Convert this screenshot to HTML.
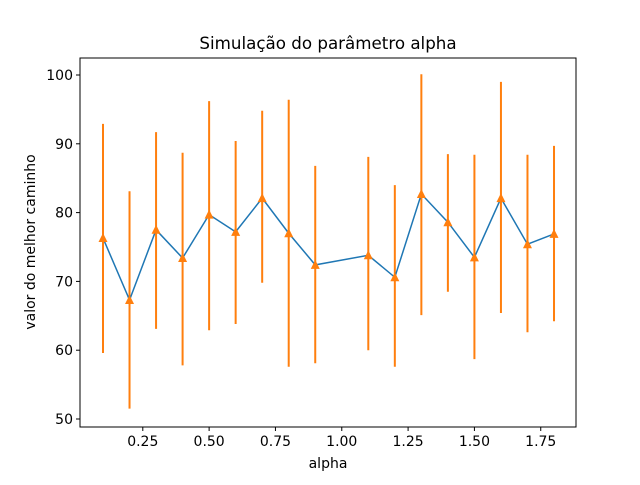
<!DOCTYPE html>
<html><head><meta charset="utf-8"><style>
body{margin:0;background:#fff;font-family:"Liberation Sans","DejaVu Sans",sans-serif}
svg text{font-family:"DejaVu Sans","Liberation Sans",sans-serif}
</style></head><body>
<svg id="c" width="640" height="480" xmlns="http://www.w3.org/2000/svg">
<rect width="640" height="480" fill="#fff"/>
</svg>
<script>
const alphas=[0.1,0.2,0.3,0.4,0.5,0.6,0.7,0.8,0.9,1.1,1.2,1.3,1.4,1.5,1.6,1.7,1.8];
const means=[76.3,67.3,77.5,73.4,79.7,77.2,82.1,77.0,72.4,73.8,70.6,82.7,78.6,73.5,82.1,75.4,76.9];
const upper=[92.9,83.1,91.7,88.7,96.2,90.4,94.8,96.4,86.8,88.1,84.0,100.1,88.5,88.4,99.0,88.4,89.7];
const lower=[59.6,51.5,63.1,57.8,62.9,63.8,69.8,57.6,58.1,60.0,57.6,65.1,68.5,58.7,65.4,62.6,64.2];
const xTicks=[0.25,0.5,0.75,1.0,1.25,1.5,1.75];
const xTickLabels=["0.25","0.50","0.75","1.00","1.25","1.50","1.75"];
const yTicks=[50,60,70,80,90,100];
const L=80,R=576,T=58,B=427;
const X=v=>103+(v-0.1)*265.3;
const Y=v=>75+(100-v)*6.88;
const svg=document.getElementById('c');
const NS='http://www.w3.org/2000/svg';
function mk(tag,attrs,parent){const e=document.createElementNS(NS,tag);for(const k in attrs)e.setAttribute(k,attrs[k]);(parent||svg).appendChild(e);return e;}
const eg=mk('g',{});


alphas.forEach((a,i)=>{const l=mk('line',{x1:X(a),x2:X(a),y1:Y(upper[i]),y2:Y(lower[i]),stroke:'#ff7f0e','stroke-width':2},eg);

});
const pl=mk('polyline',{points:alphas.map((a,i)=>X(a)+','+Y(means[i])).join(' '),fill:'none',stroke:'#1f77b4','stroke-width':1.5});


alphas.forEach((a,i)=>{const x=X(a),y=Y(means[i]);const p=mk('polygon',{points:`${x},${y-5} ${x-4.5},${y+4} ${x+4.5},${y+4}`,fill:'#ff7f0e'});

});
const fr=mk('rect',{x:L,y:T,width:R-L,height:B-T,fill:'none',stroke:'#000','stroke-width':1});


xTicks.forEach((v,i)=>{mk('line',{x1:X(v),x2:X(v),y1:B,y2:B+4,stroke:'#000'});
const t=mk('text',{x:X(v),y:B+19,'text-anchor':'middle','font-size':14});t.textContent=xTickLabels[i];

});
yTicks.forEach(v=>{mk('line',{x1:L-4,x2:L,y1:Y(v),y2:Y(v),stroke:'#000'});
const t=mk('text',{x:L-7,y:Y(v)+5,'text-anchor':'end','font-size':14});t.textContent=v;

});
let t=mk('text',{x:328,y:49,'text-anchor':'middle','font-size':16.7});t.textContent='Simulação do parâmetro alpha';


t=mk('text',{x:328,y:468,'text-anchor':'middle','font-size':14});t.textContent='alpha';


t=mk('text',{x:0,y:0,'text-anchor':'middle','font-size':14,transform:'translate(35,242) rotate(-90)'});t.textContent='valor do melhor caminho';


</script>
</body></html>
